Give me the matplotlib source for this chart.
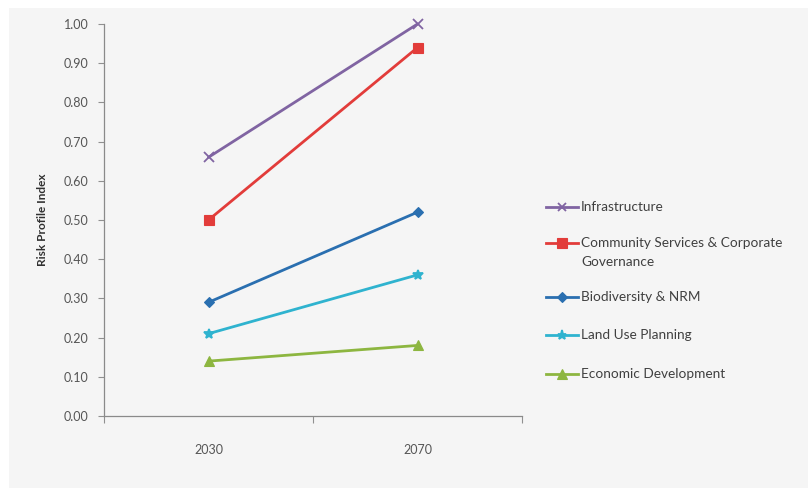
import matplotlib
matplotlib.use("Agg")
import matplotlib.pyplot as plt
from matplotlib.lines import Line2D
from matplotlib.patches import Rectangle

plt.rcParams['font.family'] = ['Lato', 'DejaVu Sans']

years = ["2030", "2070"]
series_names = [
    "Infrastructure",
    "Community Services & Corporate\nGovernance",
    "Biodiversity & NRM",
    "Land Use Planning",
    "Economic Development",
]
infrastructure = [0.66, 1.00]
community = [0.50, 0.94]
biodiversity = [0.29, 0.52]
land_use = [0.21, 0.36]
economic = [0.14, 0.18]
y_ticks = [0.0, 0.1, 0.2, 0.3, 0.4, 0.5, 0.6, 0.7, 0.8, 0.9, 1.0]

values = [infrastructure, community, biodiversity, land_use, economic]
colors = ["#8064a2", "#e23c3a", "#2a6fb0", "#2fb3cf", "#8db640"]
markers = ["x", "s", "D", "*", "^"]
msizes = [6.5, 7.5, 5.5, 7.5, 7.5]

W, H = 808, 488
fig = plt.figure(figsize=(W / 100, H / 100), dpi=100)
fig.patch.set_facecolor("white")
fig.add_artist(Rectangle((9 / W, 0), 1, (H - 8) / H, transform=fig.transFigure,
                         facecolor="#f5f5f5", edgecolor="none", zorder=-10))

ax = fig.add_axes([104 / W, (H - 416) / H, (522 - 104) / W, (416 - 24) / H])
ax.patch.set_alpha(0)

xpos = [0.5 + i for i in range(len(years))]
for vals, c, m, ms in zip(values, colors, markers, msizes):
    ax.plot(xpos, vals, color=c, lw=2.0, marker=m, markersize=ms,
            markeredgewidth=1.3 if m in ("x", "*") else 0.8,
            markerfacecolor=c, markeredgecolor=c, solid_capstyle="round",
            clip_on=False, zorder=3)

ax.set_xlim(0, len(years))
ax.set_ylim(0, 1.0)
ax.set_yticks(y_ticks)
ax.set_yticklabels([f"{v:.2f}" for v in y_ticks])
ax.set_xticks(xpos)
ax.set_xticklabels(years)
ax.set_xticks(range(len(years) + 1), minor=True)
ax.tick_params(axis="x", which="major", length=0, pad=20, labelsize=9, labelcolor="#555555")
ax.tick_params(axis="x", which="minor", length=5, width=0.8, color="#909090", direction="out")
ax.tick_params(axis="y", length=4, width=0.8, color="#909090", pad=7, labelsize=9,
               labelcolor="#555555")

for side in ("top", "right"):
    ax.spines[side].set_visible(False)
for side in ("left", "bottom"):
    ax.spines[side].set_color("#8a8a8a")
    ax.spines[side].set_linewidth(0.9)

fig.text(42 / W, 1 - 220 / H, "Risk Profile Index", rotation=90, ha="center", va="center",
         fontsize=8.5, fontweight="bold", color="#303030")

# legend drawn row by row, handle aligned with the first text line
rows_y = [207, 243, 297, 335, 374]
for name, c, m, ms, ry in zip(series_names, colors, markers, msizes, rows_y):
    yf = 1 - ry / H
    fig.add_artist(Line2D([546 / W, 578 / W], [yf, yf], transform=fig.transFigure,
                          color=c, lw=2.0))
    fig.add_artist(Line2D([562 / W], [yf], transform=fig.transFigure, color=c,
                          marker=m, markersize=ms * 0.9, markerfacecolor=c,
                          markeredgecolor=c,
                          markeredgewidth=1.3 if m in ("x", "*") else 0.8))
    fig.text(581 / W, 1 - (ry - 6) / H, name, ha="left", va="top",
             fontsize=9.8, color="#404040", linespacing=1.65)

fig.savefig("out.png", dpi=100, facecolor="white")
